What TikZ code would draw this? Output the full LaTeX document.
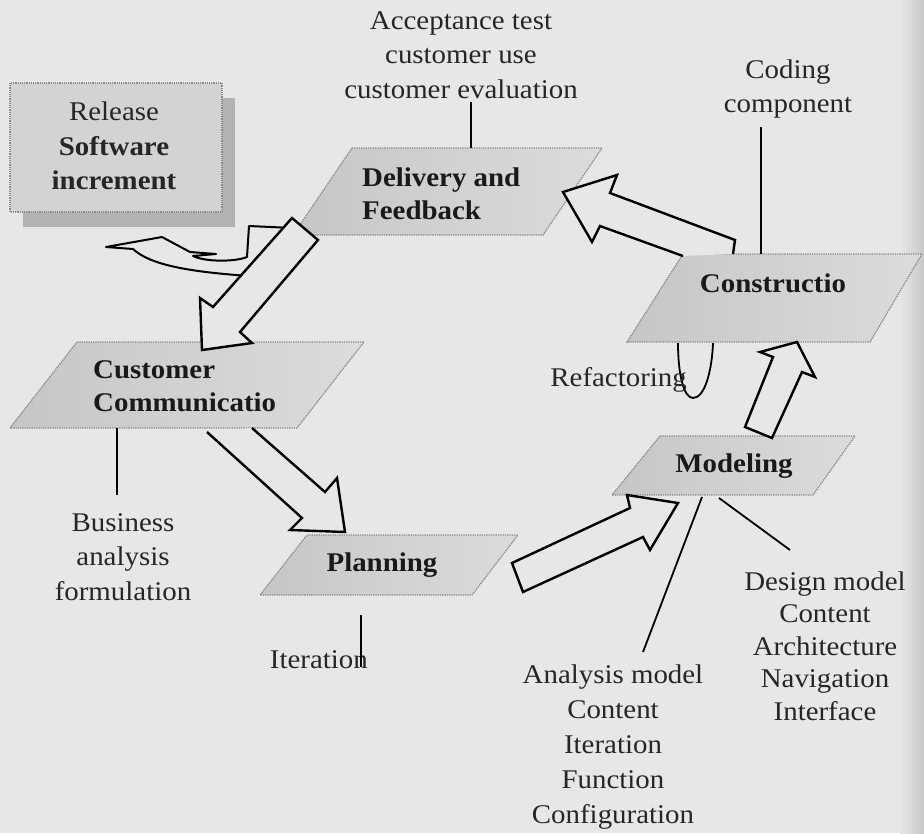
\documentclass[tikz,border=0pt]{standalone}
\usepackage{fontspec}
\setmainfont[FakeStretch=1.07]{Liberation Serif}
\definecolor{paper}{HTML}{E7E7E7}
\definecolor{stageA}{HTML}{C6C6C6}
\definecolor{stageB}{HTML}{DCDCDC}
\definecolor{boxfill}{HTML}{D3D3D3}
\definecolor{boxshadow}{HTML}{B2B2B2}
\definecolor{edge}{HTML}{8A8A8A}
\tikzset{
  stage/.style={left color=stageA, right color=stageB, draw=edge, densely dotted, line width=1.3pt},
  blockarrow/.style={fill=paper, draw=black, line width=2.4pt, line join=miter},
  link/.style={draw=black, line width=1.8pt},
  lbl/.style={font=\fontsize{27}{34.5}\selectfont, align=center, inner sep=0pt, text=black!85},
  stagelbl/.style={font=\bfseries\fontsize{27}{33}\selectfont, inner sep=0pt, text=black!90},
}
\begin{document}
\begin{tikzpicture}[x=1pt,y=-1pt]
\useasboundingbox (0,0) rectangle (924,833);
\fill[paper] (0,0) rectangle (924,833);
\shade[left color=paper, right color=black!22] (900,0) rectangle (924,833);

% release box with its shadow
\fill[boxshadow] (23,98) rectangle (235,227);
\filldraw[fill=boxfill, draw=edge, densely dotted, line width=1.2pt] (10,83) rectangle (222,212);
\node[lbl] (release) at (114,146) {Release\\\textbf{Software}\\\textbf{increment}};

% process stages
\path[stage] (352,148) -- (602,148) -- (543,235) -- (293,235) -- cycle;
\node[stagelbl, align=left, anchor=west] (delivery) at (362,194) {Delivery and\\Feedback};

\path[stage] (683,254) -- (922,254) -- (870,342) -- (627,342) -- cycle;
\node[stagelbl] (construction) at (773,283) {Constructio};

\path[stage] (77,342) -- (364,342) -- (297,428) -- (10,428) -- cycle;
\node[stagelbl, align=left, anchor=west] (customer) at (93,386) {Customer\\Communicatio};

\path[stage] (307,535) -- (518,535) -- (472,595) -- (260,595) -- cycle;
\node[stagelbl] (planning) at (382,565) {Planning};

\path[stage] (660,436) -- (855,436) -- (813,495) -- (612,495) -- cycle;
\node[stagelbl] (modeling) at (734,466) {Modeling};

% release hand-off (curved arrow)
\filldraw[fill=paper, draw=black, line width=2pt, line join=round]
  (292,228) -- (249,226) -- (247,257) .. controls (235,262) and (205,262) .. (193,256)
  -- (216,254) -- (190,252) -- (162,237) -- (106,247) -- (133,249)
  .. controls (150,265) and (190,272) .. (250,276);

% cycle arrows
\filldraw[blockarrow] (292,218) -- (318,240) -- (240,332) -- (252,343) -- (202,350)
  -- (200,298) -- (213,307) -- cycle;
\filldraw[blockarrow] (207,432) -- (302,518) -- (290,530) -- (345,532) -- (337,478)
  -- (325,492) -- (252,428);
\filldraw[blockarrow] (512,563) -- (630,508) -- (627,495) -- (678,503) -- (650,550)
  -- (643,537) -- (523,592) -- cycle;
\filldraw[blockarrow] (745,427) -- (773,357) -- (760,352) -- (797,342) -- (815,377)
  -- (802,372) -- (772,438) -- cycle;
\filldraw[blockarrow] (733,254) -- (735,240) -- (610,193) -- (617,175) -- (563,192)
  -- (592,242) -- (600,226) -- (683,256);

% refactoring loop
\draw[link] (678,343) .. controls (678,375) and (684,398) .. (693,398)
  .. controls (705,398) and (712,370) .. (713,343);
\node[lbl, anchor=east] (refactor) at (687,380) {Refactoring};

% annotations
\node[lbl] (accept) at (461,55) {Acceptance test\\customer use\\customer evaluation};
\coordinate (acceptFoot) at (471,102);
\coordinate (deliveryTop) at (471,148);
\draw[link] (acceptFoot) -- (deliveryTop);

\node[lbl] (coding) at (788,89) {Coding\\component};
\coordinate (codingFoot) at (761,127);
\coordinate (constructionTop) at (761,254);
\draw[link] (codingFoot) -- (constructionTop);

\node[lbl] (business) at (123,557) {Business\\analysis\\formulation};
\coordinate (customerFoot) at (117,428);
\coordinate (businessTop) at (117,495);
\draw[link] (customerFoot) -- (businessTop);

\node[lbl, anchor=east] (iteration) at (368,660) {Iteration};
\coordinate (planningFoot) at (361,615);
\coordinate (iterationTop) at (361,667);
\draw[link] (planningFoot) -- (iterationTop);

\node[lbl, font=\fontsize{27}{35}\selectfont] (analysis) at (613,747)
  {Analysis model\\Content\\Iteration\\Function\\Configuration};
\node[lbl, font=\fontsize{27}{32.5}\selectfont] (design) at (825,646)
  {Design model\\Content\\Architecture\\Navigation\\Interface};
\coordinate (modelA) at (702,497);
\coordinate (analysisTop) at (643,652);
\coordinate (modelB) at (719,498);
\coordinate (designTop) at (790,550);
\draw[link] (modelA) -- (analysisTop);
\draw[link] (modelB) -- (designTop);
\end{tikzpicture}
\end{document}
